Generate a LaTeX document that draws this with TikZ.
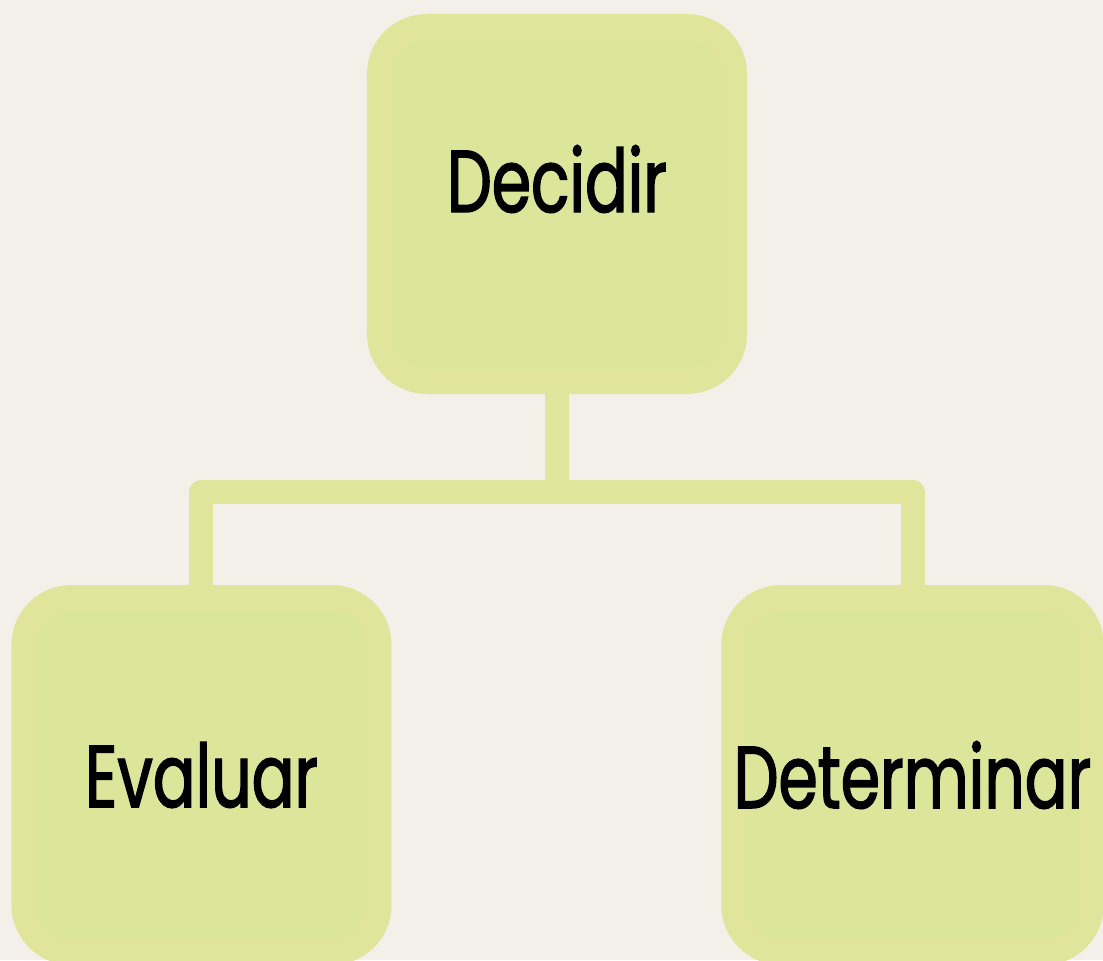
\documentclass[tikz,border=0pt]{standalone}
\usepackage{fontspec}
\newfontfamily\boxfont{Poppins}[FakeStretch=0.72,FakeBold=1.6]
\usepackage{tikz}
\usetikzlibrary{positioning,calc}
\definecolor{paper}{HTML}{F3EFE9}
\definecolor{boxfill}{HTML}{DCE69B}
\definecolor{boxline}{HTML}{E1E59B}
\def\TreeDx{7.11cm}
\def\TreeDy{11.42cm}

\tikzset{
  box/.style={draw=boxline, fill=boxfill, line width=0.5cm, rounded corners=0.95cm,
    minimum width=7.1cm, minimum height=7.1cm, inner sep=0pt,
    font=\boxfont\fontsize{50}{60}\selectfont},
  link/.style={draw=boxline, line width=0.48cm, line join=round}
}

\begin{document}
\begin{tikzpicture}
	\fill[paper] (-11.14,4.08) rectangle (10.92,-15.12);
	\useasboundingbox (-11.14,4.08) rectangle (10.92,-15.12);
	\node[box, label={[yshift=0.5cm,font=\boxfont\fontsize{50}{60}\selectfont]center:Decidir}] (decidir) at (0,0) {};
	\node[box, on grid, below left=\TreeDy and \TreeDx of decidir] (evaluar) {Evaluar};
	\node[box, on grid, below right=\TreeDy and \TreeDx of decidir] (determinar) {Determinar};
	% connectors
	\coordinate (fork) at ($(decidir.south)+(0,-1.96)$);
	\draw[link] (decidir.south) -- (fork);
	\draw[link] (evaluar.north) |- (fork) -| (determinar.north);
\end{tikzpicture}
\end{document}
